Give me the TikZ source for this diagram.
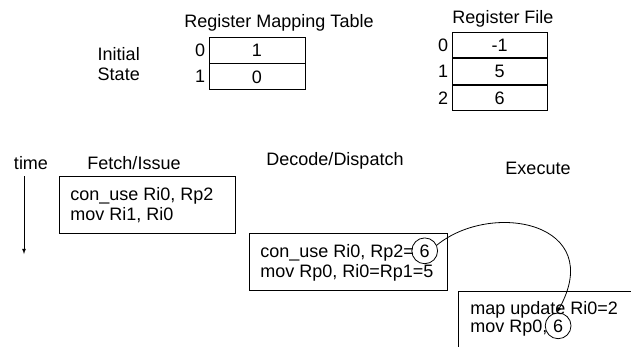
\documentclass[tikz,border=0pt]{standalone}
\usepackage{fontspec}
\setmainfont{Liberation Sans}
\usetikzlibrary{positioning}

\begin{document}
\begin{tikzpicture}[x=1pt, y=-1pt, line width=0.8pt, >=latex,
        every node/.style={font=\fontsize{18}{20}\selectfont},
        cell/.style={draw, minimum height=26pt, inner sep=0pt},
        codeline/.style={anchor=base west, inner sep=0pt},
        ring/.style={draw, circle, inner sep=3.4pt, anchor=base west}]
        \useasboundingbox (0,0) rectangle (631,346);
        \clip (0,0) rectangle (631,346);

        % initial state
        \node[align=left, anchor=west] (init) at (94,64) {Initial\\State};

        \node (maptitle) at (279,23) {Register Mapping Table};
        \node[cell, minimum width=96pt] (m0) at (257,50) {1};
        \node[cell, minimum width=96pt, below=0pt of m0] (m1) {0};
        \node[left=1pt of m0, inner sep=2pt] (mi0) {0};
        \node[left=1pt of m1, inner sep=2pt] (mi1) {1};

        \node (filetitle) at (503,19) {Register File};
        \node[cell, minimum width=95pt, minimum height=25.7pt] (r0) at (499.5,45) {-1};
        \node[cell, minimum width=95pt, minimum height=25.7pt, below=0pt of r0] (r1) {5};
        \node[cell, minimum width=95pt, minimum height=25.7pt, below=0pt of r1] (r2) {6};
        \node[left=1pt of r0, inner sep=2pt] (ri0) {0};
        \node[left=1pt of r1, inner sep=2pt] (ri1) {1};
        \node[left=1pt of r2, inner sep=2pt] (ri2) {2};

        % pipeline
        \node (time) at (31,163) {time};
        \coordinate (tstart) at (24,176);
        \coordinate (tend) at (24,254);
        \draw[->] (tstart) -- (tend);

        \node (fetch) at (134,163) {Fetch/Issue};
        \node (decode) at (335,161) {Decode/Dispatch};
        \node (execute) at (538,168) {Execute};

        \draw (59,176) rectangle (235,233);
        \node[codeline] (f1) at (70,200) {con\_use Ri0, Rp2};
        \node[codeline] (f2) at (70,220) {mov Ri1, Ri0};

        \draw (249,233) rectangle (447,290);
        \node[codeline] (d1) at (260,257) {con\_use Ri0, Rp2=};
        \node[codeline] (d2) at (260,277) {mov Rp0, Ri0=Rp1=5};
        \node[ring] (d6) at ([xshift=-3pt]d1.base east) {6};

        \draw (640,291) -- (458,291) -- (458,360);
        \node[codeline] (e1) at (470,314) {map update Ri0=2};
        \node[codeline] (e2) at (470,332) {mov Rp0,};
        \node[ring] (e6) at ([xshift=-3pt]e2.base east) {6};

        \draw[->] (d6.25) .. controls +(55,-45) and +(50,-90) .. (e6.95);
\end{tikzpicture}
\end{document}
